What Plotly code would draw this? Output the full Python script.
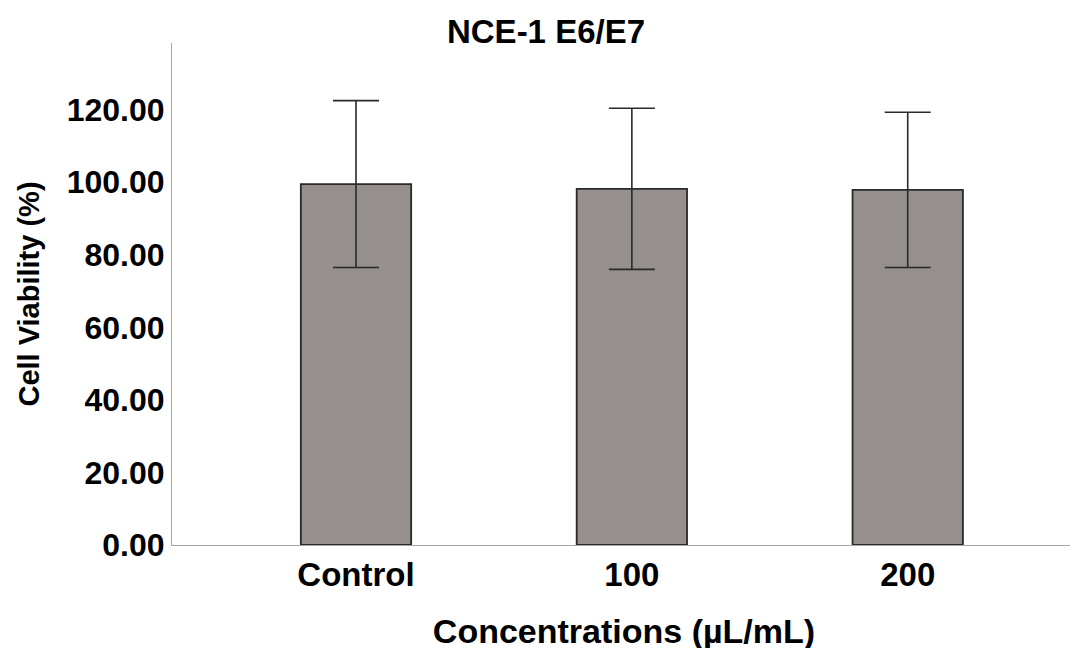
import plotly.graph_objects as go

categories = ["Control", "100", "200"]
viability = [99.5, 98.2, 97.9]
errors = [23.0, 22.2, 21.4]
y_tickvals = [0, 20, 40, 60, 80, 100, 120]
y_ticktext = ["0.00", "20.00", "40.00", "60.00", "80.00", "100.00", "120.00"]

FONT = "Liberation Sans"
AXIS_COLOR = "#a6a6a6"
OFF = 8  # page body margin offset

fig = go.Figure()
fig.add_trace(go.Bar(
    x=categories,
    y=viability,
    width=0.4,
    marker=dict(color="#958f8e", line=dict(color="#2a2a2a", width=1.8)),
    error_y=dict(type="data", array=errors, visible=True,
                 color="#2a2a2a", thickness=1.6, width=23),
    showlegend=False,
))

fig.update_layout(
    width=1078, height=648,
    margin=dict(l=172 - OFF, r=2 + OFF, t=43 - OFF, b=103 + OFF),
    plot_bgcolor="white", paper_bgcolor="white",
    font=dict(family=FONT, color="black"),
    title=dict(text="NCE-1 E6/E7", font=dict(family=FONT, size=33, weight="bold", color="black"),
               xref="container", yref="container", x=(546 - OFF)/1078, y=1-(31 - OFF)/648,
               xanchor="center", yanchor="middle"),
    bargap=0.6,
)

fig.update_xaxes(
    type="category", automargin=False,
    range=[-0.667, 2.61],
    showline=True, linecolor=AXIS_COLOR, linewidth=1.2,
    showgrid=False, ticks="", zeroline=False,
    tickfont=dict(family=FONT, size=33, weight="bold", color="black"),
    title=dict(text="Concentrations (µL/mL)", font=dict(family=FONT, size=34, weight="bold", color="black"),
               standoff=27),
)
fig.update_yaxes(
    automargin=False,
    range=[0, 138.4],
    tickvals=y_tickvals, ticktext=y_ticktext,
    showline=True, linecolor=AXIS_COLOR, linewidth=1.2,
    showgrid=False, ticks="", zeroline=False,
    ticklabelstandoff=0,
    tickfont=dict(family=FONT, size=32, weight="bold", color="black"),
    title=dict(text="Cell Viability (%)", font=dict(family=FONT, size=29, weight="bold", color="black"),
               standoff=18),
)

fig.write_html("out.html")
